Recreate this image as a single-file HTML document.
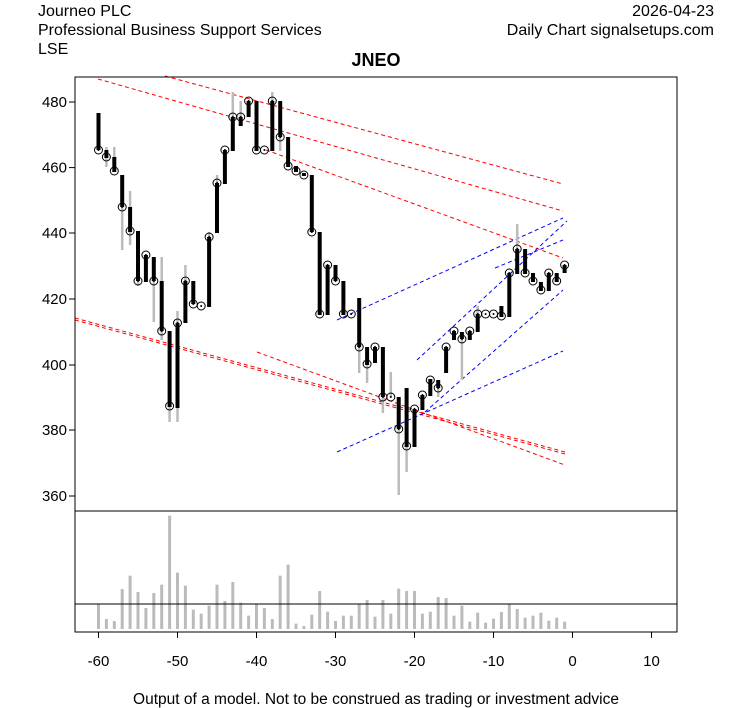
<!DOCTYPE html>
<html><head><meta charset="utf-8"><style>
body{margin:0;background:#fff;width:753px;height:708px;overflow:hidden;font-family:"Liberation Sans",Arial,sans-serif}
svg{position:absolute;left:0;top:0}
</style></head><body>
<svg id="s" width="753" height="708" viewBox="0 0 753 708" xmlns="http://www.w3.org/2000/svg" font-family="Liberation Sans, Arial, sans-serif">
<text x="38" y="16" font-size="16">Journeo PLC</text>
<text x="38" y="35" font-size="16">Professional Business Support Services</text>
<text x="38" y="54" font-size="16">LSE</text>
<text x="714" y="16" font-size="16" text-anchor="end">2026-04-23</text>
<text x="714" y="35" font-size="16" text-anchor="end">Daily Chart signalsetups.com</text>
<text x="376" y="66" font-size="18" font-weight="bold" text-anchor="middle">JNEO</text>
<text x="376" y="704" font-size="15.5" text-anchor="middle">Output of a model. Not to be construed as trading or investment advice</text>
<g id="g"></g>
<rect x="75" y="77" width="602" height="434" fill="none" stroke="#000"/>
<rect x="75" y="511" width="602" height="121" fill="none" stroke="#000"/>
<line x1="75" y1="604" x2="677" y2="604" stroke="#000"/>
</svg>
<script>
var g=document.getElementById('g'),h='';
function X(d){return 572.5+d*7.9}
[[98,79,563,211],[165,76,563,184],[266,150,563,258],[75,318,565,452],[75,320,565,454],[257,352,565,465]].forEach(function(l){
h+='<line x1="'+l[0]+'" y1="'+l[1]+'" x2="'+l[2]+'" y2="'+l[3]+'" stroke="#f00" stroke-dasharray="4,3"/>';});
[[337,320,563,218],[495,268,563,240],[417,360,567,221],[425,412,563,290],[337,452,563,351]].forEach(function(l){
h+='<line x1="'+l[0]+'" y1="'+l[1]+'" x2="'+l[2]+'" y2="'+l[3]+'" stroke="#00f" stroke-dasharray="4,3"/>';});
var c=[[-60,113,150,113,150,150],[-59,150,158,147,167,157],[-58,157,172,147,172,171],[-57,175,207,175,250,207],[-56,207,232,191,245,231],[-55,231,281,231,286,281],[-54,255,282,255,282,255],[-53,257,281,257,322,281],[-52,281,331,257,340,331],[-51,331,407,331,422,406],[-50,323,408,311,422,323],[-49,281,323,265,323,281],[-48,281,304,281,304,304],[-47,306,306,306,306,306],[-46,237,307,232,307,237],[-45,183,233,175,233,183],[-44,150,184,150,184,150],[-43,117,151,92,151,117],[-42,117,126,101,126,117],[-41,101,117,101,117,101],[-40,101,151,101,151,150],[-39,150,150,150,150,150],[-38,101,151,92,151,101],[-37,101,137,101,151,137],[-36,137,167,137,167,166],[-35,166,172,166,172,171],[-34,173,176,173,176,175],[-33,175,232,175,232,232],[-32,232,315,232,315,314],[-31,265,315,265,315,265],[-30,265,281,265,281,281],[-29,281,315,281,315,314],[-28,314,314,314,314,314],[-27,298,347,298,373,347],[-26,347,365,347,383,364],[-25,347,363,347,363,347],[-24,347,397,347,413,397],[-23,397,397,372,397,397],[-22,397,429,397,495,429],[-21,388,447,388,472,446],[-20,409,447,409,447,409],[-19,395,410,395,410,395],[-18,379,396,379,396,380],[-17,380,388,380,397,388],[-16,347,373,347,373,347],[-15,331,340,331,340,331],[-14,332,339,332,380,339],[-13,331,340,331,340,331],[-12,314,332,306,332,314],[-11,314,314,314,314,314],[-10,314,314,314,314,314],[-9,306,317,306,317,316],[-8,273,317,273,317,273],[-7,249,274,224,274,249],[-6,249,274,249,274,273],[-5,273,282,273,282,281],[-4,282,291,282,291,290],[-3,273,291,273,291,273],[-2,273,282,273,282,281],[-1,265,273,265,273,265]];
c.forEach(function(k){var x=X(k[0]);if(k[3]<k[1]||k[4]>k[2])h+='<line x1="'+x+'" y1="'+k[3]+'" x2="'+x+'" y2="'+k[4]+'" stroke="#bbb" stroke-width="2.5"/>';});
c.forEach(function(k){var x=X(k[0]);if(k[2]>k[1])h+='<line x1="'+x+'" y1="'+k[1]+'" x2="'+x+'" y2="'+k[2]+'" stroke="#000" stroke-width="4"/>';
h+='<circle cx="'+x+'" cy="'+k[5]+'" r="4" fill="none" stroke="#000"/><circle cx="'+x+'" cy="'+k[5]+'" r="1" fill="#000"/>';});
var v=[298,342,348,252,212,261,309,264,239,32,203,242,314,326,302,239,288,231,293,332,296,309,342,212,179,356,363,329,258,320,348,332,332,298,285,335,285,326,251,258,258,326,320,276,279,332,302,350,323,353,341,321,298,312,338,332,323,347,338,350];
v.forEach(function(t,i){var x=X(-60+i);h+='<line x1="'+x+'" y1="'+(505+t/3)+'" x2="'+x+'" y2="629" stroke="#bbb" stroke-width="3"/>';});
[[480,102],[460,167.6],[440,233],[420,299],[400,365],[380,430],[360,496]].forEach(function(p){
h+='<line x1="69" y1="'+p[1]+'" x2="75" y2="'+p[1]+'" stroke="#000"/><text x="67" y="'+(p[1]+5)+'" font-size="15" text-anchor="end">'+p[0]+'</text>';});
for(var d=-60;d<=10;d+=10){var x=X(d);h+='<line x1="'+x+'" y1="632" x2="'+x+'" y2="638" stroke="#000"/><text x="'+x+'" y="666" font-size="15" text-anchor="middle">'+d+'</text>';}
g.innerHTML=h;
</script>
</body></html>
